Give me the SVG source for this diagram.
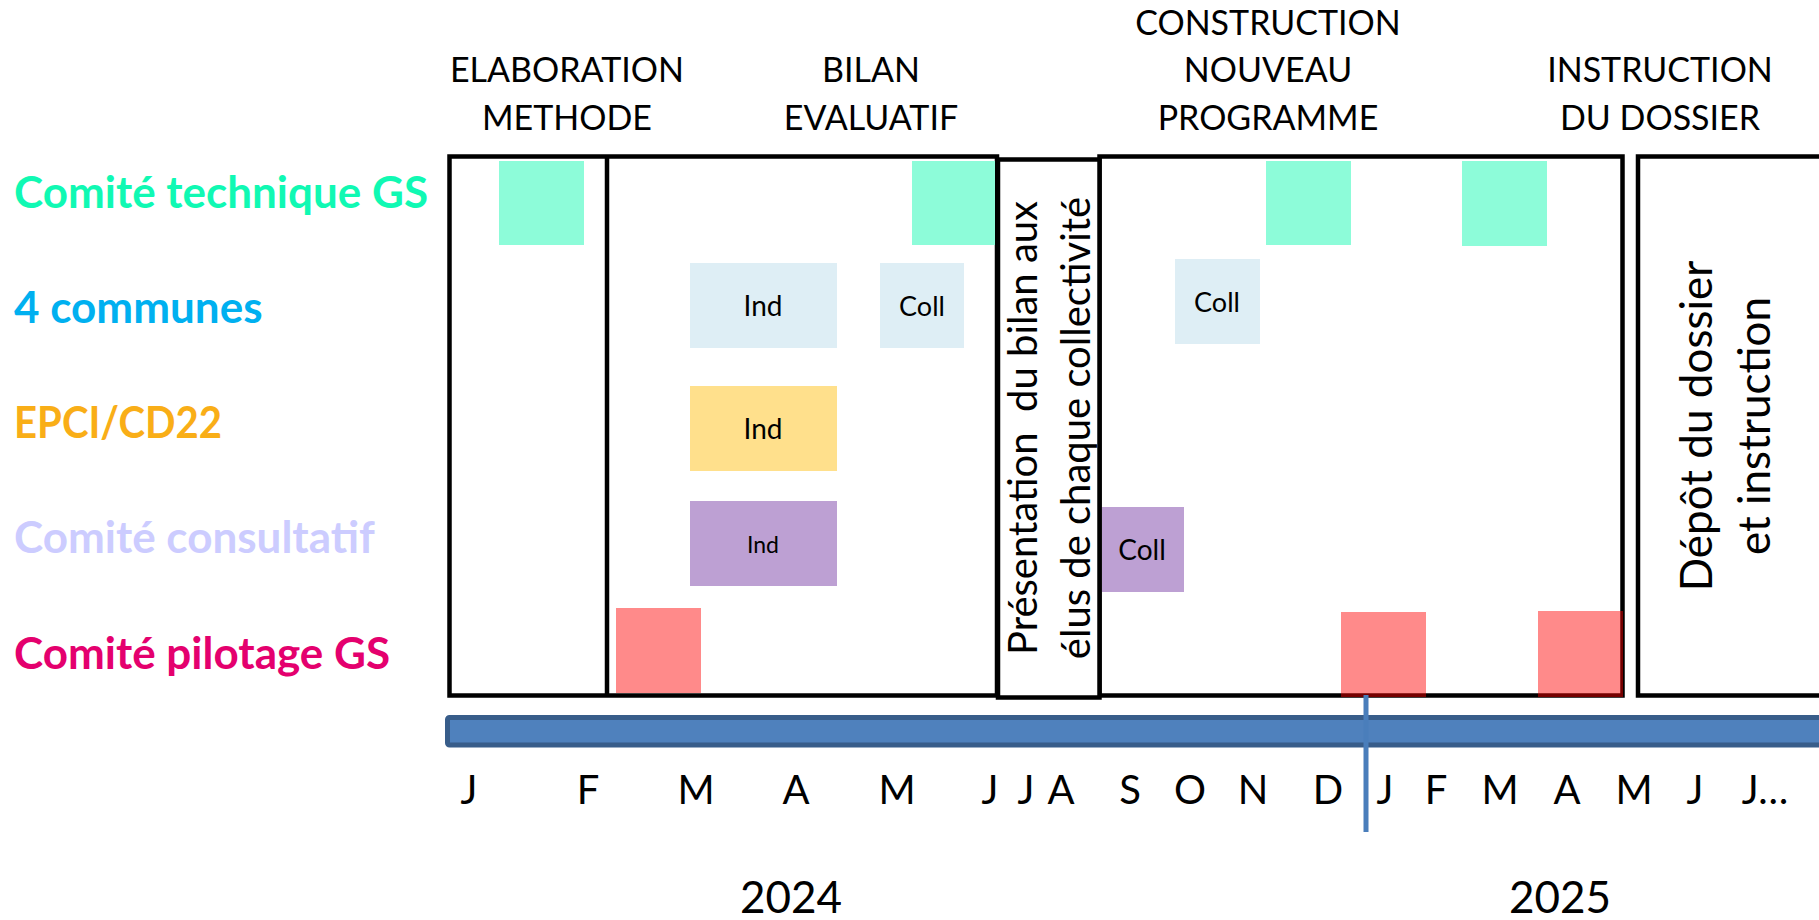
<svg xmlns="http://www.w3.org/2000/svg" width="1819" height="920" viewBox="0 0 1819 920">
<style>
text{font-family:Lato,"Open Sans","Liberation Sans",sans-serif;fill:#000}
.hdr{font-size:34px;text-anchor:middle}
.row{font-size:44px;font-weight:700}
.mon{font-size:40px;text-anchor:middle}
.yr{font-size:44px;text-anchor:middle}
.lbl{text-anchor:middle}
.frame{fill:#fff;stroke:#000;stroke-width:4.5}
.line{stroke:#000;stroke-width:4.5;fill:none}
.tech{fill:#8DFCD9}
.com{fill:#DEEEF5}
.epci{fill:#FFE08C}
.cons{fill:#BDA0D3}
.pil{fill:#FF0000;fill-opacity:0.46}
</style>

<g id="headers">
<text class="hdr" x="567" y="82">ELABORATION</text>
<text class="hdr" x="567" y="130">METHODE</text>
<text class="hdr" x="871" y="82">BILAN</text>
<text class="hdr" x="871" y="130">EVALUATIF</text>
<text class="hdr" x="1268" y="35">CONSTRUCTION</text>
<text class="hdr" x="1268" y="82">NOUVEAU</text>
<text class="hdr" x="1268" y="130">PROGRAMME</text>
<text class="hdr" x="1660" y="82">INSTRUCTION</text>
<text class="hdr" x="1660" y="130">DU DOSSIER</text>
</g>

<g id="row-labels">
<text class="row" x="14" y="208" style="fill:#10F9B3">Comité technique GS</text>
<text class="row" x="14" y="323" style="fill:#00B0F0">4 communes</text>
<text class="row" x="14" y="438" style="fill:#F9AE17" textLength="208" lengthAdjust="spacingAndGlyphs">EPCI/CD22</text>
<text class="row" x="14" y="553" style="fill:#CCCCFF">Comité consultatif</text>
<text class="row" x="14" y="669" style="fill:#E4006E">Comité pilotage GS</text>
</g>

<g id="phase-frames">
<rect class="frame" x="449.5" y="156.5" width="547.5" height="539"/>
<line class="line" x1="607" y1="156.5" x2="607" y2="695.5"/>
<rect class="frame" x="1099.5" y="156.5" width="523" height="539"/>
<rect class="frame" x="1638" y="156.5" width="200" height="539"/>
</g>

<g id="presentation">
<rect class="frame" x="998" y="159.5" width="101.5" height="538"/>
<text xml:space="preserve" transform="rotate(-90)" x="-428" y="1037" style="font-size:40px;text-anchor:middle">Présentation  du bilan aux</text>
<text transform="rotate(-90)" x="-428" y="1090" style="font-size:40px;text-anchor:middle">élus de chaque collectivité</text>
</g>

<g id="depot">
<text transform="rotate(-90)" x="-426" y="1712" style="font-size:44px;text-anchor:middle">Dépôt du dossier</text>
<text transform="rotate(-90)" x="-426" y="1770" style="font-size:44px;text-anchor:middle">et instruction</text>
</g>

<g id="comite-technique">
<rect class="tech" x="499" y="161" width="85" height="84"/>
<rect class="tech" x="912" y="161" width="83" height="84"/>
<rect class="tech" x="1266" y="161" width="85" height="84"/>
<rect class="tech" x="1462" y="161" width="85" height="85"/>
</g>

<g id="communes">
<rect class="com" x="690" y="263" width="147" height="85"/>
<text class="lbl" x="763" y="316" style="font-size:28px">Ind</text>
<rect class="com" x="880" y="263" width="84" height="85"/>
<text class="lbl" x="922" y="316" style="font-size:27px">Coll</text>
<rect class="com" x="1175" y="259" width="85" height="85"/>
<text class="lbl" x="1217" y="312" style="font-size:27px">Coll</text>
</g>

<g id="epci">
<rect class="epci" x="690" y="386" width="147" height="85"/>
<text class="lbl" x="763" y="439" style="font-size:28px">Ind</text>
</g>

<g id="consultatif">
<rect class="cons" x="690" y="501" width="147" height="85"/>
<text class="lbl" x="763" y="553" style="font-size:23px">Ind</text>
<rect class="cons" x="1102" y="507" width="82" height="85"/>
<text class="lbl" x="1142" y="560" style="font-size:28px">Coll</text>
</g>

<g id="pilotage">
<rect class="pil" x="616" y="608" width="85" height="85"/>
<rect class="pil" x="1341" y="612" width="85" height="85"/>
<rect class="pil" x="1538" y="611" width="85" height="86"/>
</g>

<g id="timeline">
<rect x="447.5" y="717.5" width="1400" height="27.5" rx="2" fill="#4F81BD" stroke="#385D8A" stroke-width="5"/>
<text class="mon" x="469" y="804">J</text>
<text class="mon" x="588" y="804">F</text>
<text class="mon" x="696" y="804">M</text>
<text class="mon" x="796" y="804">A</text>
<text class="mon" x="897" y="804">M</text>
<text class="mon" x="990" y="804">J</text>
<text class="mon" x="1026" y="804">J</text>
<text class="mon" x="1061" y="804">A</text>
<text class="mon" x="1130" y="804">S</text>
<text class="mon" x="1190" y="804">O</text>
<text class="mon" x="1253" y="804">N</text>
<text class="mon" x="1328" y="804">D</text>
<text class="mon" x="1385" y="804">J</text>
<text class="mon" x="1436" y="804">F</text>
<text class="mon" x="1500" y="804">M</text>
<text class="mon" x="1567" y="804">A</text>
<text class="mon" x="1634" y="804">M</text>
<text class="mon" x="1695" y="804">J</text>
<text class="mon" x="1765" y="804">J…</text>
<text class="yr" x="791" y="913">2024</text>
<text class="yr" x="1560" y="913">2025</text>
</g>

<g id="connectors">
<line x1="1366" y1="695" x2="1366" y2="832" stroke="#4A7EBB" stroke-width="5"/>
</g>
</svg>
